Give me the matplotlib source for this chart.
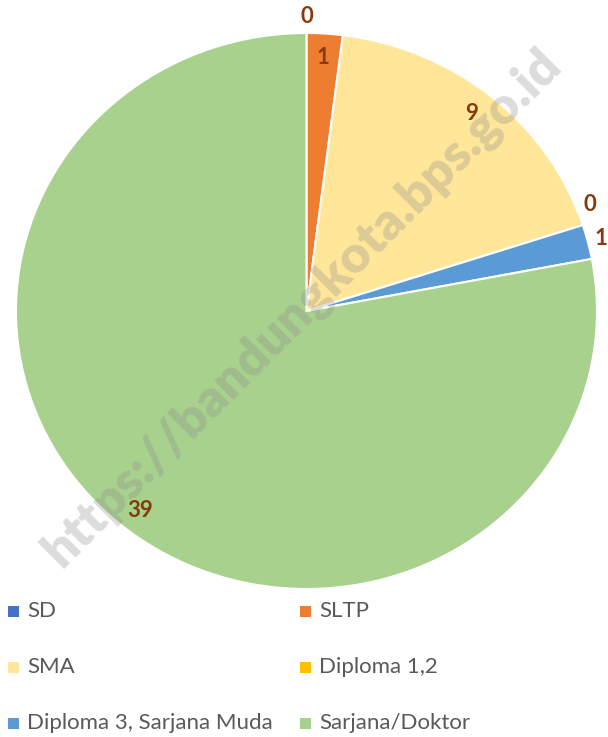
import numpy as np
import matplotlib
matplotlib.use("Agg")
import matplotlib.pyplot as plt
from matplotlib.patches import Rectangle

plt.rcParams['font.family'] = ['Lato', 'DejaVu Sans']

categories = ["SD", "SLTP", "SMA", "Diploma 1,2", "Diploma 3, Sarjana Muda", "Sarjana/Doktor"]
values = [0, 1, 9, 0, 1, 39]
colors = ["#4472C4", "#ED7D31", "#FFE699", "#FFC000", "#5B9BD5", "#A9D18E"]

# label placement (radius factor, angle nudge in degrees)
lab_r = [1.06, 0.915, 0.91, 1.05, 1.045, 0.917]
lab_nudge = [0, 0, 1, 3.5, 0, 1]

fig = plt.figure(figsize=(6.08, 7.37), dpi=100, facecolor='white')
ax = fig.add_axes([16/608, 148/737, 581/608, 556/737])

wedges, _ = ax.pie(values, colors=colors, startangle=90, counterclock=False,
                   wedgeprops=dict(edgecolor='white', linewidth=1.5))
ax.set_aspect('auto')
ax.set_xlim(-1, 1)
ax.set_ylim(-1, 1)
ax.axis('off')

total = sum(values)
ang = 90.0
for v, r, d in zip(values, lab_r, lab_nudge):
    span = 360.0 * v / total
    mid = np.deg2rad(ang - span / 2 + d)
    ax.text(r * np.cos(mid), r * np.sin(mid), str(v), ha='center', va='center',
            fontsize=16, fontweight='bold', color='#843C0C', clip_on=False)
    ang -= span

# watermark
fig.text(0.497, 0.582, "https://bandungkota.bps.go.id", rotation=45,
         ha='center', va='center', fontsize=37, fontweight='heavy',
         color=(0.55, 0.55, 0.55, 0.3))

# legend, two columns
col_x = [8, 300]
row_y = [611, 667, 723]
for i, (name, c) in enumerate(zip(categories, colors)):
    x = col_x[i % 2]
    y = row_y[i // 2]
    fig.patches.append(Rectangle((x/608, 1 - (y + 5.5)/737), 11/608, 11/737,
                                 transform=fig.transFigure, facecolor=c, edgecolor='none'))
    fig.text((x + 19)/608, 1 - y/737, name, ha='left', va='center',
             fontsize=16, color='#595959')

fig.savefig("out.png", dpi=100, facecolor='white')
